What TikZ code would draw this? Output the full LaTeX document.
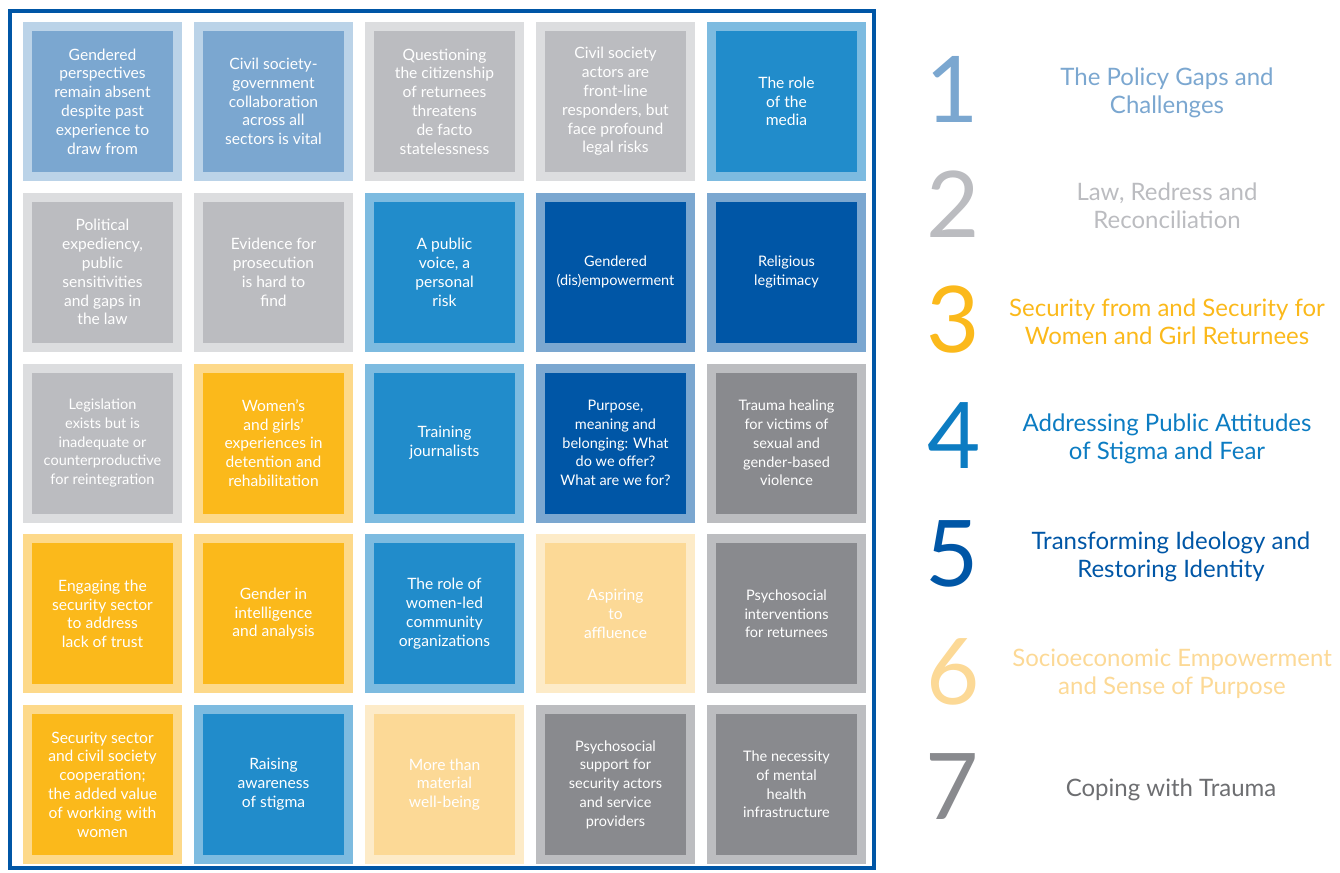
\documentclass[tikz,border=0pt]{standalone}
\usepackage{fontspec}
\setmainfont{Lato}
\usetikzlibrary{positioning}

\definecolor{policyIn}{HTML}{7BA7D0}
\definecolor{policyOut}{HTML}{BBD3E8}
\definecolor{lawIn}{HTML}{BBBCC0}
\definecolor{lawOut}{HTML}{DCDDDF}
\definecolor{secIn}{HTML}{FBB91B}
\definecolor{secOut}{HTML}{FDD98A}
\definecolor{pubIn}{HTML}{218CCB}
\definecolor{pubOut}{HTML}{7DBBE0}
\definecolor{pubNum}{HTML}{0C7CC2}
\definecolor{ideoIn}{HTML}{0056A6}
\definecolor{ideoOut}{HTML}{7BA7D0}
\definecolor{socIn}{HTML}{FCD996}
\definecolor{socOut}{HTML}{FDEBC8}
\definecolor{traIn}{HTML}{898A8E}
\definecolor{traOut}{HTML}{BCBDC0}
\definecolor{traText}{HTML}{6D6E71}

\begin{document}
\begin{tikzpicture}[x=1pt,y=-1pt,
    tile/.style={minimum size=150pt, inner sep=0pt, line width=9pt, text=white,
      align=center, font=\fontsize{15.6}{18.8}\selectfont},
    narrow/.style={font=\fontsize{14.5}{18.8}\selectfont},
    policy/.style={tile, fill=policyIn, draw=policyOut},
    law/.style={tile, fill=lawIn, draw=lawOut},
    security/.style={tile, fill=secIn, draw=secOut},
    public/.style={tile, fill=pubIn, draw=pubOut},
    ideology/.style={tile, narrow, fill=ideoIn, draw=ideoOut},
    socio/.style={tile, fill=socIn, draw=socOut},
    trauma/.style={tile, narrow, fill=traIn, draw=traOut},
    num/.style={inner sep=0pt, font=\fontsize{92}{92}\selectfont},
    head/.style={inner sep=0pt, align=center, font=\fontsize{24}{28}\selectfont}
    ]
\useasboundingbox (0,0) rectangle (1340,872);

% outer frame
\draw[ideoIn, line width=4pt] (10,11) rectangle (874,868);

% row 1
\node[policy] (t11) at (102.5,101.5) {Gendered\\perspectives\\remain absent\\despite past\\experience to\\draw from};
\node[policy] (t12) at (273.5,101.5) {Civil society-\\government\\collaboration\\across all\\sectors is vital};
\node[law] (t13) at (444.5,101.5) {Questioning\\the citizenship\\of returnees\\threatens\\de facto\\statelessness};
\node[law] (t14) at (615.5,101.5) {Civil society\\actors are\\front-line\\responders, but\\face profound\\legal risks};
\node[public] (t15) at (786.5,101.5) {The role\\of the\\media};

% row 2
\node[law] (t21) at (102.5,272.25) {Political\\expediency,\\public\\sensitivities\\and gaps in\\the law};
\node[law] (t22) at (273.5,272.25) {Evidence for\\prosecution\\is hard to\\find};
\node[public] (t23) at (444.5,272.25) {A public\\voice, a\\personal\\risk};
\node[ideology] (t24) at (615.5,272.25) {Gendered\\(dis)empowerment};
\node[ideology] (t25) at (786.5,272.25) {Religious\\legitimacy};

% row 3
\node[law, narrow] (t31) at (102.5,443) {Legislation\\exists but is\\inadequate or\\counterproductive\\for reintegration};
\node[security] (t32) at (273.5,443) {Women’s\\and girls’\\experiences in\\detention and\\rehabilitation};
\node[public] (t33) at (444.5,443) {Training\\journalists};
\node[ideology] (t34) at (615.5,443) {Purpose,\\meaning and\\belonging: What\\do we offer?\\What are we for?};
\node[trauma] (t35) at (786.5,443) {Trauma healing\\for victims of\\sexual and\\gender-based\\violence};

% row 4
\node[security] (t41) at (102.5,613.75) {Engaging the\\security sector\\to address\\lack of trust};
\node[security] (t42) at (273.5,613.75) {Gender in\\intelligence\\and analysis};
\node[public] (t43) at (444.5,613.75) {The role of\\women-led\\community\\organizations};
\node[socio] (t44) at (615.5,613.75) {Aspiring\\to\\affluence};
\node[trauma] (t45) at (786.5,613.75) {Psychosocial\\interventions\\for returnees};

% row 5
\node[security] (t51) at (102.5,784.5) {Security sector\\and civil society\\cooperation;\\the added value\\of working with\\women};
\node[public] (t52) at (273.5,784.5) {Raising\\awareness\\of stigma};
\node[socio] (t53) at (444.5,784.5) {More than\\material\\well-being};
\node[trauma] (t54) at (615.5,784.5) {Psychosocial\\support for\\security actors\\and service\\providers};
\node[trauma] (t55) at (786.5,784.5) {The necessity\\of mental\\health\\infrastructure};

% legend
\node[num, text=policyIn] (n1) at (952,89) {1};
\node[head, text=policyIn] (l1) at (1167,93) {The Policy Gaps and\\Challenges};
\node[num, text=lawIn] (n2) at (953,204) {2};
\node[head, text=lawIn] (l2) at (1167,206) {Law, Redress and\\Reconciliation};
\node[num, text=secIn] (n3) at (953,320) {3};
\node[head, text=secIn] (l3) at (1167,322) {Security from and Security for\\Women and Girl Returnees};
\node[num, text=pubNum] (n4) at (954,436) {4};
\node[head, text=pubNum] (l4) at (1167,439) {Addressing Public Attitudes\\of Stigma and Fear};
\node[num, text=ideoIn] (n5) at (952,554) {5};
\node[head, text=ideoIn] (l5) at (1171,557) {Transforming Ideology and\\Restoring Identity};
\node[num, text=socIn] (n6) at (953,672) {6};
\node[head, text=socIn] (l6) at (1172,674) {Socioeconomic Empowerment\\and Sense of Purpose};
\node[num, text=traIn] (n7) at (952,787) {7};
\node[head, text=traText] (l7) at (1171,790) {Coping with Trauma};
\end{tikzpicture}
\end{document}
